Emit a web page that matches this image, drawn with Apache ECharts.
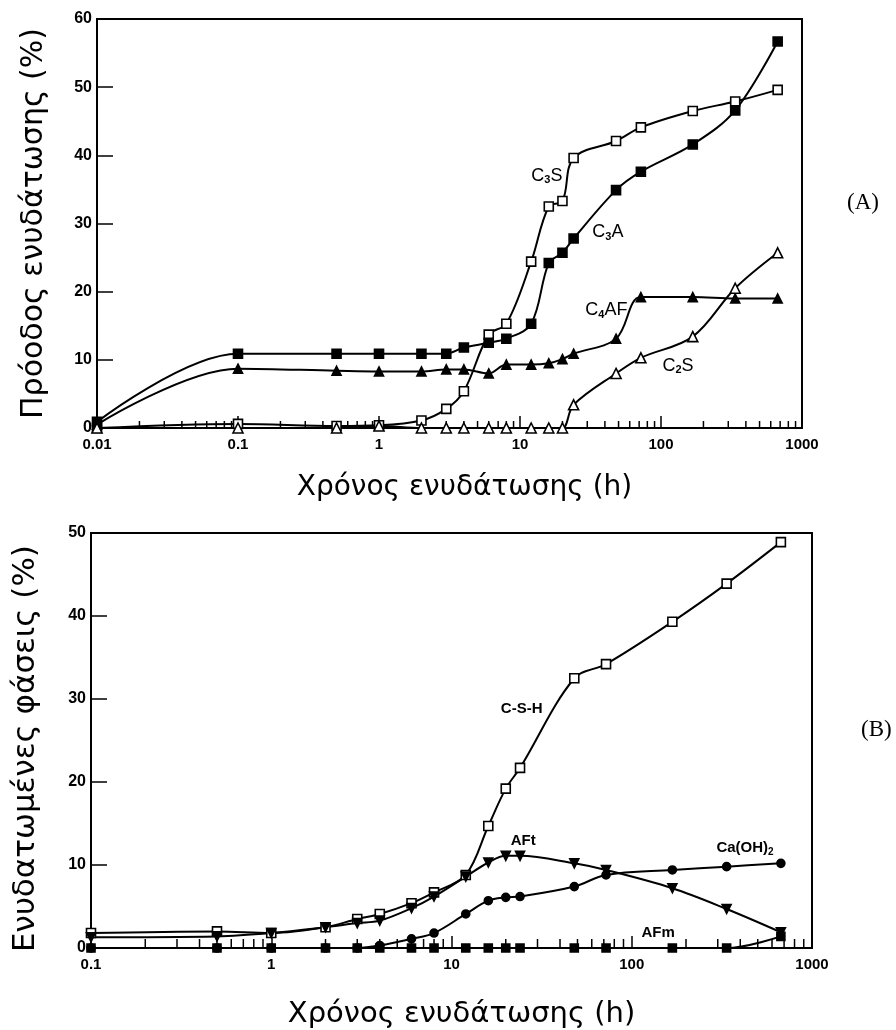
<!DOCTYPE html>
<html>
<head>
<meta charset="utf-8">
<script src="https://cdn.jsdelivr.net/npm/echarts@6/dist/echarts.min.js"></script>
<style>
html,body{margin:0;padding:0;background:#fff;}
#chart{width:896px;height:1030px;}
</style>
</head>
<body>
<div id="chart"></div>
<script>
// ---------- DATA ----------
// Panel (A): hydration progress of clinker phases (%)
const timesA = [0.01, 0.1, 0.5, 1, 2, 3, 4, 6, 8, 12, 16, 20, 24, 48, 72, 168, 336, 672];
const c3s  = [0, 0.6, 0.3, 0.4, 1.1, 2.8, 5.4, 13.7, 15.3, 24.4, 32.5, 33.3, 39.6, 42.1, 44.1, 46.5, 47.9, 49.6];
const c3a  = [0.9, 10.9, 10.9, 10.9, 10.9, 10.9, 11.8, 12.5, 13.1, 15.3, 24.2, 25.7, 27.8, 34.9, 37.6, 41.6, 46.6, 56.7];
const c4af = [0.5, 8.7, 8.4, 8.3, 8.3, 8.6, 8.6, 8.0, 9.3, 9.3, 9.5, 10.1, 10.9, 13.1, 19.2, 19.2, 19.0, 19.0];
const c2s  = [0, 0, 0, 0.3, 0, 0, 0, 0, 0, 0, 0, 0, 3.4, 8.0, 10.3, 13.4, 20.5, 25.7];

// Panel (B): hydrated phases (%)
const timesB = [0.1, 0.5, 1, 2, 3, 4, 6, 8, 12, 16, 20, 24, 48, 72, 168, 336, 672];
const csh  = [1.8, 2.0, 1.8, 2.5, 3.5, 4.1, 5.4, 6.7, 8.8, 14.7, 19.2, 21.7, 32.5, 34.2, 39.3, 43.9, 48.9];
const aft  = [1.3, 1.4, 1.8, 2.5, 3.0, 3.3, 4.8, 6.2, 8.6, 10.3, 11.1, 11.1, 10.2, 9.4, 7.2, 4.7, 1.9];
const caoh = [0, 0, 0, 0, 0, 0.3, 1.1, 1.8, 4.1, 5.7, 6.1, 6.2, 7.4, 8.8, 9.4, 9.8, 10.2];
const afm  = [0, 0, 0, 0, 0, 0, 0, 0, 0, 0, 0, 0, 0, 0, 0, 0, 1.4];

// Tick labels
const xLabelsA = ['0.01', '0.1', '1', '10', '100', '1000'];
const xLabelsB = ['0.1', '1', '10', '100', '1000'];
const yLabelsA = ['0', '10', '20', '30', '40', '50', '60'];
const yLabelsB = ['0', '10', '20', '30', '40', '50'];
const minorFactors = [2, 3, 4, 5, 6, 7, 8, 9];

// Texts
const xTitle = 'Χρόνος ενυδάτωσης (h)';
const yTitleA = 'Πρόοδος ενυδάτωσης (%)';
const yTitleB = 'Ενυδατωμένες φάσεις (%)';

// Curve labels (anchor in data coordinates)
const labelsA = [
  {t: 15.5, v: 37.0, text: '{m|C}{s|3}{m|S}'},
  {t: 42,   v: 28.7, text: '{m|C}{s|3}{m|A}'},
  {t: 41,   v: 17.3, text: '{m|C}{s|4}{m|AF}'},
  {t: 132,  v: 9.1,  text: '{m|C}{s|2}{m|S}'}
];
const labelsB = [
  {t: 24.5, v: 28.8, text: '{m|C-S-H}'},
  {t: 25,   v: 12.9, text: '{m|AFt}'},
  {t: 425,  v: 12.1, text: '{m|Ca(OH)}{s|2}'},
  {t: 140,  v: 1.8,  text: '{m|AFm}'}
];

// ---------- BUILD ----------
const pair = (ts, vs) => ts.map((t, i) => [t, vs[i]]);
function minorTicks(labels) {
  const out = [];
  const decades = labels.map(Number);
  for (let i = 0; i < decades.length - 1; i++) {
    minorFactors.forEach(f => out.push([decades[i] * f, 0]));
  }
  return out;
}
function fmt(labels) {
  return function (v) {
    for (const l of labels) {
      const n = Number(l);
      if (Math.abs(v - n) <= n * 1e-6) return l;
    }
    return '';
  };
}
const FONT = 'Liberation Sans, Arial, sans-serif';
const TITLE_FONT = 'DejaVu Sans, Verdana, sans-serif';

function lineSeries(name, xi, data, symbol, filled, size, rotate) {
  return {
    name, type: 'line', xAxisIndex: xi, yAxisIndex: xi,
    data, smooth: 0.35, symbol, symbolSize: size, symbolRotate: rotate || 0,
    showSymbol: true, showAllSymbol: true,
    lineStyle: {color: '#000', width: 2},
    itemStyle: {color: filled ? '#000' : '#fff', borderColor: '#000', borderWidth: 1.6},
    z: 3, animation: false
  };
}
function labelSeries(xi, list) {
  const big = xi === 0;
  return {
    type: 'scatter', xAxisIndex: xi, yAxisIndex: xi, silent: true,
    symbolSize: 0.1, itemStyle: {color: '#fff', opacity: 1},
    data: list.map(l => ({value: [l.t, l.v], label: {formatter: l.text}})),
    label: {
      show: true, position: 'inside', color: '#000', opacity: 1, textBorderWidth: 0,
      rich: {
        m: {fontFamily: FONT, fontSize: big ? 18 : 15, fontWeight: big ? 'normal' : 'bold', color: '#000', textBorderWidth: 0},
        s: {fontFamily: FONT, fontSize: big ? 11 : 10, fontWeight: 'bold', color: '#000', textBorderWidth: 0, padding: [9, 0, 0, 0]}
      }
    },
    z: 5, animation: false
  };
}
function minorSeries(xi, labels, len) {
  return {
    type: 'custom', xAxisIndex: xi, yAxisIndex: xi, silent: true,
    data: minorTicks(labels),
    renderItem: function (params, api) {
      const p = api.coord([api.value(0), 0]);
      return {type: 'line', shape: {x1: p[0], y1: p[1], x2: p[0], y2: p[1] - len},
              style: {stroke: '#000', lineWidth: 1.5}};
    },
    z: 2, animation: false
  };
}
function xAxis(gi, labels) {
  return {
    type: 'log', logBase: 10, gridIndex: gi,
    min: Number(labels[0]), max: Number(labels[labels.length - 1]),
    splitNumber: labels.length - 1,
    name: xTitle, nameLocation: 'middle', nameGap: gi === 0 ? 46 : 52,
    nameTextStyle: {fontFamily: TITLE_FONT, fontSize: gi === 0 ? 28 : 29, color: '#000',
                    padding: gi === 0 ? [0, 0, 0, 30] : [0, 0, 0, 20]},
    axisLine: {show: true, onZero: false, lineStyle: {color: '#000', width: 2}},
    axisTick: {show: true, inside: true, length: 12, lineStyle: {color: '#000', width: 1.5}},
    axisLabel: {formatter: fmt(labels), fontFamily: FONT, fontWeight: 'bold', fontSize: 15, color: '#000', margin: 9},
    splitLine: {show: false}
  };
}
function yAxis(gi, labels) {
  return {
    type: 'value', gridIndex: gi,
    min: 0, max: Number(labels[labels.length - 1]), interval: 10,
    name: gi === 0 ? yTitleA : yTitleB, nameLocation: 'middle', nameGap: gi === 0 ? 48 : 50,
    nameTextStyle: {fontFamily: TITLE_FONT, fontSize: gi === 0 ? 30 : 31, color: '#000',
                    padding: gi === 0 ? [0, 0, 0, 0] : [0, 16, 0, 0]},
    axisLine: {show: true, lineStyle: {color: '#000', width: 2}},
    axisTick: {show: true, inside: true, length: 16, lineStyle: {color: '#000', width: 1.5}},
    axisLabel: {formatter: v => labels.includes(String(v)) ? String(v) : '', fontFamily: FONT, fontWeight: 'bold', fontSize: 16, color: '#000', margin: 5},
    splitLine: {show: false}
  };
}

const option = {
  backgroundColor: '#fff',
  animation: false,
  grid: [
    {left: 97, top: 19, right: 94, bottom: 602, show: true, borderColor: '#000', borderWidth: 2, backgroundColor: 'transparent'},
    {left: 91, top: 533, right: 84, bottom: 81, show: true, borderColor: '#000', borderWidth: 2, backgroundColor: 'transparent'}
  ],
  xAxis: [xAxis(0, xLabelsA), xAxis(1, xLabelsB)],
  yAxis: [yAxis(0, yLabelsA), yAxis(1, yLabelsB)],
  graphic: [
    {type: 'text', left: 847, top: 191, style: {text: '(A)', font: '23px "Liberation Serif", "Times New Roman", serif', fill: '#000'}},
    {type: 'text', left: 861, top: 718, style: {text: '(B)', font: '23px "Liberation Serif", "Times New Roman", serif', fill: '#000'}}
  ],
  series: [
    minorSeries(0, xLabelsA, 7),
    minorSeries(1, xLabelsB, 9),
    lineSeries('C3S', 0, pair(timesA, c3s), 'rect', false, 9),
    lineSeries('C3A', 0, pair(timesA, c3a), 'rect', true, 9),
    lineSeries('C4AF', 0, pair(timesA, c4af), 'triangle', true, 9),
    lineSeries('C2S', 0, pair(timesA, c2s), 'triangle', false, 10),
    lineSeries('C-S-H', 1, pair(timesB, csh), 'rect', false, 9),
    lineSeries('AFt', 1, pair(timesB, aft), 'triangle', true, 9, 180),
    lineSeries('Ca(OH)2', 1, pair(timesB, caoh), 'circle', true, 8),
    lineSeries('AFm', 1, pair(timesB, afm), 'rect', true, 8),
    labelSeries(0, labelsA),
    labelSeries(1, labelsB)
  ]
};
const chart = echarts.init(document.getElementById('chart'), null, {renderer: 'canvas'});
chart.setOption(option);
</script>
</body>
</html>
